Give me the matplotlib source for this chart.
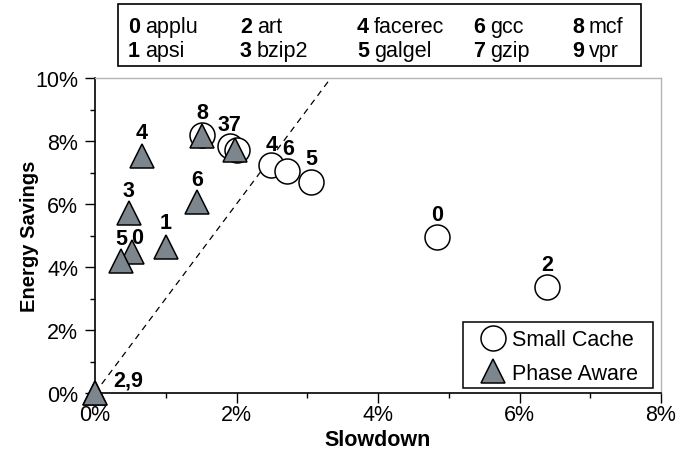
import matplotlib
matplotlib.use("Agg")
import matplotlib.pyplot as plt
from matplotlib.lines import Line2D
from matplotlib.patches import Rectangle
from matplotlib.ticker import MultipleLocator, FuncFormatter

plt.rcParams['font.family'] = ['Liberation Sans', 'DejaVu Sans']

# Benchmarks (index -> name)
benchmarks = ["applu", "apsi", "art", "bzip2", "facerec",
              "galgel", "gcc", "gzip", "mcf", "vpr"]

# Small Cache: benchmark ids, slowdown (%), energy savings (%)
sc_ids = [0, 2, 3, 4, 5, 6, 7, 8]
sc_slowdown = [4.83, 6.39, 1.91, 2.49, 3.06, 2.71, 2.00, 1.51]
sc_savings = [4.94, 3.35, 7.83, 7.24, 6.69, 7.05, 7.72, 8.19]

# Phase Aware: benchmark ids, slowdown (%), energy savings (%)
pa_ids = [0, 1, 2, 3, 4, 5, 6, 7, 8, 9]
pa_slowdown = [0.52, 1.00, 0.00, 0.48, 0.66, 0.37, 1.44, 1.98, 1.51, 0.00]
pa_savings = [4.48, 4.63, 0.00, 5.71, 7.52, 4.19, 6.06, 7.71, 8.16, 0.00]

# Reference line: savings = 3 x slowdown
ref_slope = 3.0

W, H = 693, 460
AX_L, AX_R, AX_T, AX_B = 95, 661, 79, 394
fig = plt.figure(figsize=(W / 100, H / 100), dpi=100)
ax = fig.add_axes([AX_L / W, 1 - AX_B / H, (AX_R - AX_L) / W, (AX_B - AX_T) / H])


def ax_px(x, y):
    """Pixel position in the figure -> axes fraction."""
    return (x - AX_L) / (AX_R - AX_L), (AX_B - y) / (AX_B - AX_T)


FS = 15.5
circle_ms = 18
tri_ms = 17.5
tri_color = "#7d858d"

ax.plot([0, 10 / ref_slope], [0, 10], ls=(0, (5, 4)), color="black", lw=0.9, zorder=1)

ax.plot(sc_slowdown, sc_savings, ls="none", marker="o", ms=circle_ms,
        mfc="white", mec="black", mew=1.1, zorder=2)
ax.plot(pa_slowdown, pa_savings, ls="none", marker="^", ms=tri_ms,
        mfc=tri_color, mec="black", mew=1.1, zorder=3, clip_on=False)


def pt(series, i):
    if series == "sc":
        k = sc_ids.index(i)
        return sc_slowdown[k], sc_savings[k]
    k = pa_ids.index(i)
    return pa_slowdown[k], pa_savings[k]


# Point labels: (ids, series, anchor id, dx, dy in points)
point_labels = [
    ([4], "pa", 4, 0, 17),
    ([3], "pa", 3, 0, 16),
    ([5], "pa", 5, 0, 16),
    ([0], "pa", 0, 4, 10),
    ([1], "pa", 1, 0, 18),
    ([6], "pa", 6, 0, 16),
    ([8], "sc", 8, 0, 16),
    ([3, 7], "sc", 7, -5, 18.5),
    ([4], "sc", 4, 0, 15),
    ([6], "sc", 6, 1, 16),
    ([5], "sc", 5, 0, 17),
    ([0], "sc", 0, 0, 16.5),
    ([2], "sc", 2, 0, 16.5),
]
for ids, series, anchor, dx, dy in point_labels:
    x, y = pt(series, anchor)
    ax.annotate("".join(str(i) for i in ids), (x, y), xytext=(dx, dy),
                textcoords="offset points", ha="center", va="center",
                fontsize=FS, fontweight="bold", zorder=4)

x0, y0 = pt("pa", 2)
ax.annotate("2,9", (x0, y0), xytext=(24, 9), textcoords="offset points",
            ha="center", va="center", fontsize=FS, fontweight="bold", zorder=4)

ax.set_xlim(0, 8)
ax.set_ylim(0, 10)
ax.xaxis.set_major_locator(MultipleLocator(2))
ax.xaxis.set_minor_locator(MultipleLocator(1))
ax.yaxis.set_major_locator(MultipleLocator(2))
ax.yaxis.set_minor_locator(MultipleLocator(1))
pct = FuncFormatter(lambda v, p: f"{v:.0f}%")
ax.xaxis.set_major_formatter(pct)
ax.yaxis.set_major_formatter(pct)
ax.tick_params(which="major", direction="out", length=7, width=1, labelsize=FS)
ax.tick_params(which="minor", direction="out", length=3.3, width=1)
ax.tick_params(axis="x", which="major", pad=1)
ax.tick_params(axis="y", which="major", pad=5)

for s in ("top", "right"):
    ax.spines[s].set_color("#b4b4b4")
    ax.spines[s].set_linewidth(1)
for s in ("left", "bottom"):
    ax.spines[s].set_color("black")
    ax.spines[s].set_linewidth(1.2)

ax.set_xlabel("Slowdown", fontsize=FS, fontweight="bold", labelpad=3)
ax.set_ylabel("Energy Savings", fontsize=14.5, fontweight="bold")
ax.yaxis.set_label_coords(*ax_px(39, 0)[:1], 0.5)

# Series key in the lower right corner
handles = [
    Line2D([], [], ls="none", marker="o", ms=circle_ms, mfc="white", mec="black", mew=1.1),
    Line2D([], [], ls="none", marker="^", ms=tri_ms, mfc=tri_color, mec="black", mew=1.1),
]
leg = ax.legend(handles, ["Small Cache", "Phase Aware"], loc="upper left",
                bbox_to_anchor=ax_px(480.7, 330.5),
                borderaxespad=0, borderpad=0, frameon=False, fontsize=FS,
                handlelength=1.116, handletextpad=0.33, labelspacing=0.57)
bx0, by0 = ax_px(462.7, 389)
bx1, by1 = ax_px(653, 322.7)
ax.add_patch(Rectangle((bx0, by0), bx1 - bx0, by1 - by0, transform=ax.transAxes,
                       fill=True, facecolor="white", edgecolor="black",
                       lw=1.1, zorder=4.5))
leg.set_zorder(5)

# Benchmark key above the plot
fig.patches.append(Rectangle((117.5 / W, 1 - 67 / H), (641 - 117.5) / W, 62 / H,
                             transform=fig.transFigure, fill=False,
                             edgecolor="black", lw=1.2))
col_x = [128, 240, 357, 473, 572]
row_y = [25, 49]
for i, name in enumerate(benchmarks):
    cx = col_x[i // 2]
    cy = row_y[i % 2]
    fig.text(cx / W, 1 - cy / H, str(i), fontsize=FS, fontweight="bold",
             ha="left", va="center_baseline")
    fig.text((cx + 17) / W, 1 - cy / H, name, fontsize=FS,
             ha="left", va="center_baseline")

fig.savefig("out.png", dpi=100)
